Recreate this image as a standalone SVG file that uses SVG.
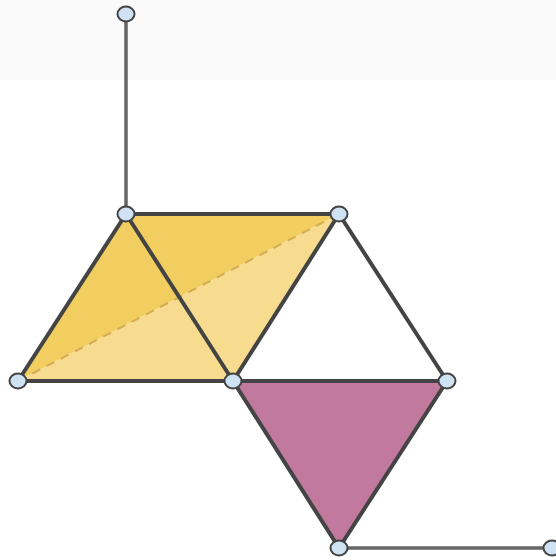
<svg xmlns="http://www.w3.org/2000/svg" width="556" height="560" viewBox="0 0 556 560">
<style>
.e{stroke:#444;stroke-width:4;stroke-linecap:round;fill:none}
.g{stroke:#666;stroke-width:3.5;fill:none}
.n{fill:#cfe2f3;stroke:#444;stroke-width:2}
</style>
<rect x="0" y="0" width="556" height="560" fill="#fff"/>
<rect x="0" y="0" width="556" height="80" fill="#fafafa"/>
<g id="faces">
<polygon points="126,214 339,214 18,381" fill="#f2cd5f"/>
<polygon points="18,381 339,214 233,381" fill="#f7dc90"/>
<polygon points="233,381 447,381 339,548" fill="#c17a9e"/>
<line x1="18" y1="381" x2="339" y2="214" stroke="#d2ad55" stroke-width="2" stroke-dasharray="9,7"/>
</g>
<g id="connectors">
<line class="g" x1="126" y1="14" x2="126" y2="214"/>
<line class="e" x1="126" y1="214" x2="339" y2="214"/>
<line class="e" x1="126" y1="214" x2="18" y2="381"/>
<line class="e" x1="18" y1="381" x2="233" y2="381"/>
<line class="e" x1="126" y1="214" x2="233" y2="381"/>
<line class="e" x1="339" y1="214" x2="233" y2="381"/>
<line class="e" x1="339" y1="214" x2="447" y2="381"/>
<line class="e" x1="233" y1="381" x2="447" y2="381"/>
<line class="e" x1="233" y1="381" x2="339" y2="548"/>
<line class="e" x1="447" y1="381" x2="339" y2="548"/>
<line class="g" x1="339" y1="548" x2="552" y2="548" stroke="#555"/>
</g>
<g id="n0"><ellipse class="n" cx="126" cy="14" rx="8.5" ry="7.5"/></g>
<g id="n1"><ellipse class="n" cx="126" cy="214" rx="8.5" ry="7.5"/></g>
<g id="n2"><ellipse class="n" cx="339" cy="214" rx="8.5" ry="7.5"/></g>
<g id="n3"><ellipse class="n" cx="18" cy="381" rx="8.5" ry="7.5"/></g>
<g id="n4"><ellipse class="n" cx="233" cy="381" rx="8.5" ry="7.5"/></g>
<g id="n5"><ellipse class="n" cx="447" cy="381" rx="8.5" ry="7.5"/></g>
<g id="n6"><ellipse class="n" cx="339" cy="548" rx="8.5" ry="7.5"/></g>
<g id="n7"><ellipse class="n" cx="552" cy="548" rx="8.5" ry="7.5"/></g>
</svg>
